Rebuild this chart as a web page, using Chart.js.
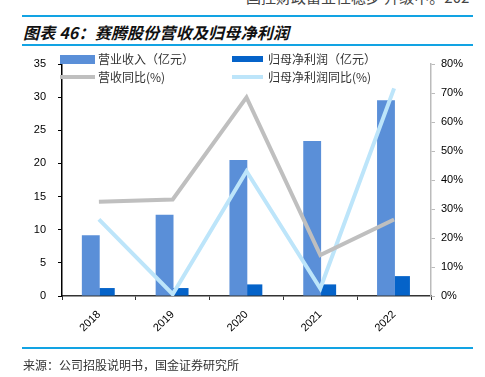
<!DOCTYPE html>
<html>
<head>
<meta charset="utf-8">
<script src="https://cdn.jsdelivr.net/npm/chart.js@4.4.0/dist/chart.umd.min.js"></script>
<style>
  body { margin: 0; background: #fff; }
  #wrap { position: relative; width: 485px; height: 377px; overflow: hidden; font-family: "Noto Sans CJK SC", sans-serif; }
  #chart1 { position: absolute; left: 0; top: 0; }
  .hline { position: absolute; left: 22px; width: 451px; height: 2px; background: #12a3e3; }
  .txt { position: absolute; white-space: nowrap; }
  .sw { position: absolute; }
</style>
</head>
<body>
<div id="wrap">
  <div class="txt" style="left:246px; top:-14px; font-size:15px; color:#444;">国控财政富业性稳步 升级中。202</div>
  <div class="hline" style="top:15px;"></div>
  <div class="txt" style="left:23px; top:20px; font-size:16px; font-weight:bold; font-style:italic; color:#111; letter-spacing:0.2px;">图表 46：赛腾股份营收及归母净利润</div>
  <div class="hline" style="top:44px;"></div>
  <canvas id="chart1" width="485" height="377"></canvas>
  <!-- 凡例 -->
  <div class="sw" style="left:60px; top:55px; width:35px; height:9px; background:#5a8fd8;"></div>
  <div class="txt" style="left:98px; top:50px; font-size:12px; color:#333;">营业收入（亿元）</div>
  <div class="sw" style="left:232px; top:56px; width:31px; height:6px; background:#0563c9;"></div>
  <div class="txt" style="left:268px; top:50px; font-size:12px; color:#333;">归母净利润（亿元）</div>
  <div class="sw" style="left:60px; top:75px; width:35px; height:4px; background:#bfbfbf;"></div>
  <div class="txt" style="left:98px; top:68px; font-size:12px; color:#333;">营收同比(%)</div>
  <div class="sw" style="left:232px; top:75px; width:31px; height:4px; background:#bde5fa;"></div>
  <div class="txt" style="left:268px; top:68px; font-size:12px; color:#333;">归母净利润同比(%)</div>
  <div class="hline" style="top:347px;"></div>
  <div class="txt" style="left:23px; top:356px; font-size:12px; color:#333;">来源：公司招股说明书，国金证券研究所</div>
</div>
<script>
// データ
var years = ["2018", "2019", "2020", "2021", "2022"];
var revenue = [9.15, 12.25, 20.5, 23.4, 29.55];      // 营业收入（亿元）
var profit = [1.2, 1.2, 1.75, 1.75, 3.0];           // 归母净利润（亿元）
var revenueYoy = [32.5, 33.3, 68.5, 14.1, 26.4];    // 营收同比(%)
var profitYoy = [26.4, 0.6, 43.0, 2.6, 71.6];       // 归母净利润同比(%)
var leftTicks = [0, 35, 5];
var rightTicks = [0, 80, 10];

var tickFont = { family: "Liberation Sans", size: 11 };

var ctx = document.getElementById("chart1");
var chart1 = new Chart(ctx, {
    type: 'bar',
    data: {
        labels: years,
        datasets: [{
            label: "营业收入（亿元）",
            data: revenue,
            backgroundColor: "#5a8fd8",
            yAxisID: 'y',
            order: 1,
            barPercentage: 1.1,
            categoryPercentage: 0.44
        }, {
            label: "归母净利润（亿元）",
            data: profit,
            backgroundColor: "#0563c9",
            yAxisID: 'y',
            order: 1,
            barPercentage: 0.95,
            categoryPercentage: 0.44
        }, {
            type: 'line',
            label: "营收同比(%)",
            data: revenueYoy,
            borderColor: "#bfbfbf",
            borderWidth: 4,
            pointRadius: 0,
            tension: 0,
            yAxisID: 'y1',
            order: 0
        }, {
            type: 'line',
            label: "归母净利润同比(%)",
            data: profitYoy,
            borderColor: "#bde5fa",
            borderWidth: 4,
            pointRadius: 0,
            tension: 0,
            yAxisID: 'y1',
            order: 0
        }]
    },
    options: {
        responsive: false,
        animation: false,
        layout: { padding: { left: 0, right: 0, top: 64, bottom: 0 } },
        plugins: {
            legend: { display: false },
            tooltip: { enabled: false }
        },
        scales: {
            x: {
                grid: { offset: true, drawOnChartArea: false, tickLength: 4, color: "#333" },
                border: { color: "#333", width: 1.5 },
                ticks: { font: tickFont, color: "#000", minRotation: 45, maxRotation: 45, padding: 8 },
                afterFit: function (s) { s.height = 81; }
            },
            y: {
                position: 'left',
                min: leftTicks[0],
                max: leftTicks[1],
                ticks: { stepSize: leftTicks[2], font: tickFont, color: "#000", padding: 12 },
                grid: { drawOnChartArea: false, tickLength: 4, color: "#000" },
                border: { color: "#000", width: 1.5 },
                afterFit: function (s) { s.width = 62; }
            },
            y1: {
                position: 'right',
                min: rightTicks[0],
                max: rightTicks[1],
                ticks: {
                    stepSize: rightTicks[2], font: tickFont, color: "#000", padding: 6,
                    callback: function (v) { return v + "%"; }
                },
                grid: { drawOnChartArea: false, tickLength: 4, color: "#bbb" },
                border: { color: "#bbb", width: 1.5 },
                afterFit: function (s) { s.width = 54; }
            }
        }
    }
});
</script>
</body>
</html>
